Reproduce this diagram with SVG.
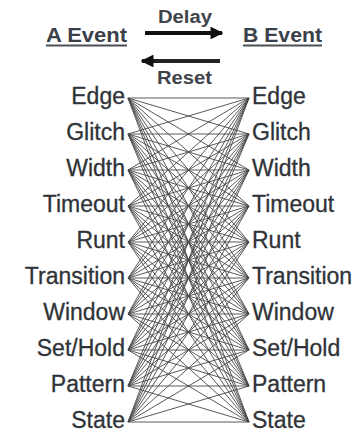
<svg xmlns="http://www.w3.org/2000/svg" width="363" height="434" viewBox="0 0 363 434">
<style>
.lbl{font-family:"Liberation Sans",Arial,sans-serif;font-size:23px;fill:#2f3338;stroke:#2f3338;stroke-width:0.3}
.hdr{font-family:"Liberation Sans",Arial,sans-serif;font-size:20px;font-weight:bold;fill:#3a3f4a}
.arr{font-family:"Liberation Sans",Arial,sans-serif;font-size:18px;font-weight:bold;fill:#3f444b}
.ul{stroke:#4a4f55;stroke-width:2}
.mesh path{fill:none;stroke:#474747;stroke-width:0.9}
</style>
<defs>
<marker id="ah" viewBox="0 0 10 10" refX="9" refY="5" markerWidth="3.2" markerHeight="3.2" orient="auto" markerUnits="strokeWidth">
<path d="M0 0 L10 5 L0 10 Z" fill="#111"/>
</marker>
</defs>
<rect width="363" height="434" fill="#fff"/>
<g id="header-a"><text class="hdr" x="46" y="42" textLength="81" lengthAdjust="spacingAndGlyphs">A Event</text><line class="ul" x1="46" y1="45.5" x2="127" y2="45.5"/></g>
<g id="header-b"><text class="hdr" x="243" y="42" textLength="79" lengthAdjust="spacingAndGlyphs">B Event</text><line class="ul" x1="243" y1="45.5" x2="322" y2="45.5"/></g>
<g id="delay"><text class="arr" x="158" y="23" textLength="54" lengthAdjust="spacingAndGlyphs">Delay</text><line x1="145" y1="33" x2="222" y2="33" stroke="#111" stroke-width="4" marker-end="url(#ah)"/></g>
<g id="reset"><text class="arr" x="157" y="84" textLength="55" lengthAdjust="spacingAndGlyphs">Reset</text><line x1="220" y1="61" x2="142" y2="61" stroke="#222" stroke-width="4" marker-end="url(#ah)"/></g>
<g id="connectors" class="mesh">
<path d="M128 98L249 98M128 98L249 134M128 98L249 170M128 98L249 206M128 98L249 242M128 98L249 278M128 98L249 314M128 98L249 350M128 98L249 386M128 98L249 422"/>
<path d="M128 134L249 98M128 134L249 134M128 134L249 170M128 134L249 206M128 134L249 242M128 134L249 278M128 134L249 314M128 134L249 350M128 134L249 386M128 134L249 422"/>
<path d="M128 170L249 98M128 170L249 134M128 170L249 170M128 170L249 206M128 170L249 242M128 170L249 278M128 170L249 314M128 170L249 350M128 170L249 386M128 170L249 422"/>
<path d="M128 206L249 98M128 206L249 134M128 206L249 170M128 206L249 206M128 206L249 242M128 206L249 278M128 206L249 314M128 206L249 350M128 206L249 386M128 206L249 422"/>
<path d="M128 242L249 98M128 242L249 134M128 242L249 170M128 242L249 206M128 242L249 242M128 242L249 278M128 242L249 314M128 242L249 350M128 242L249 386M128 242L249 422"/>
<path d="M128 278L249 98M128 278L249 134M128 278L249 170M128 278L249 206M128 278L249 242M128 278L249 278M128 278L249 314M128 278L249 350M128 278L249 386M128 278L249 422"/>
<path d="M128 314L249 98M128 314L249 134M128 314L249 170M128 314L249 206M128 314L249 242M128 314L249 278M128 314L249 314M128 314L249 350M128 314L249 386M128 314L249 422"/>
<path d="M128 350L249 98M128 350L249 134M128 350L249 170M128 350L249 206M128 350L249 242M128 350L249 278M128 350L249 314M128 350L249 350M128 350L249 386M128 350L249 422"/>
<path d="M128 386L249 98M128 386L249 134M128 386L249 170M128 386L249 206M128 386L249 242M128 386L249 278M128 386L249 314M128 386L249 350M128 386L249 386M128 386L249 422"/>
<path d="M128 422L249 98M128 422L249 134M128 422L249 170M128 422L249 206M128 422L249 242M128 422L249 278M128 422L249 314M128 422L249 350M128 422L249 386M128 422L249 422"/>
</g>
<g id="a-edge"><text class="lbl" x="125" y="104" text-anchor="end">Edge</text></g>
<g id="a-glitch"><text class="lbl" x="125" y="140" text-anchor="end">Glitch</text></g>
<g id="a-width"><text class="lbl" x="125" y="176" text-anchor="end">Width</text></g>
<g id="a-timeout"><text class="lbl" x="125" y="212" text-anchor="end">Timeout</text></g>
<g id="a-runt"><text class="lbl" x="125" y="248" text-anchor="end">Runt</text></g>
<g id="a-transition"><text class="lbl" x="125" y="284" text-anchor="end">Transition</text></g>
<g id="a-window"><text class="lbl" x="125" y="320" text-anchor="end">Window</text></g>
<g id="a-setHold"><text class="lbl" x="125" y="356" text-anchor="end">Set/Hold</text></g>
<g id="a-pattern"><text class="lbl" x="125" y="392" text-anchor="end">Pattern</text></g>
<g id="a-state"><text class="lbl" x="125" y="428" text-anchor="end">State</text></g>
<g id="b-edge"><text class="lbl" x="252" y="104">Edge</text></g>
<g id="b-glitch"><text class="lbl" x="252" y="140">Glitch</text></g>
<g id="b-width"><text class="lbl" x="252" y="176">Width</text></g>
<g id="b-timeout"><text class="lbl" x="252" y="212">Timeout</text></g>
<g id="b-runt"><text class="lbl" x="252" y="248">Runt</text></g>
<g id="b-transition"><text class="lbl" x="252" y="284">Transition</text></g>
<g id="b-window"><text class="lbl" x="252" y="320">Window</text></g>
<g id="b-setHold"><text class="lbl" x="252" y="356">Set/Hold</text></g>
<g id="b-pattern"><text class="lbl" x="252" y="392">Pattern</text></g>
<g id="b-state"><text class="lbl" x="252" y="428">State</text></g>
</svg>
